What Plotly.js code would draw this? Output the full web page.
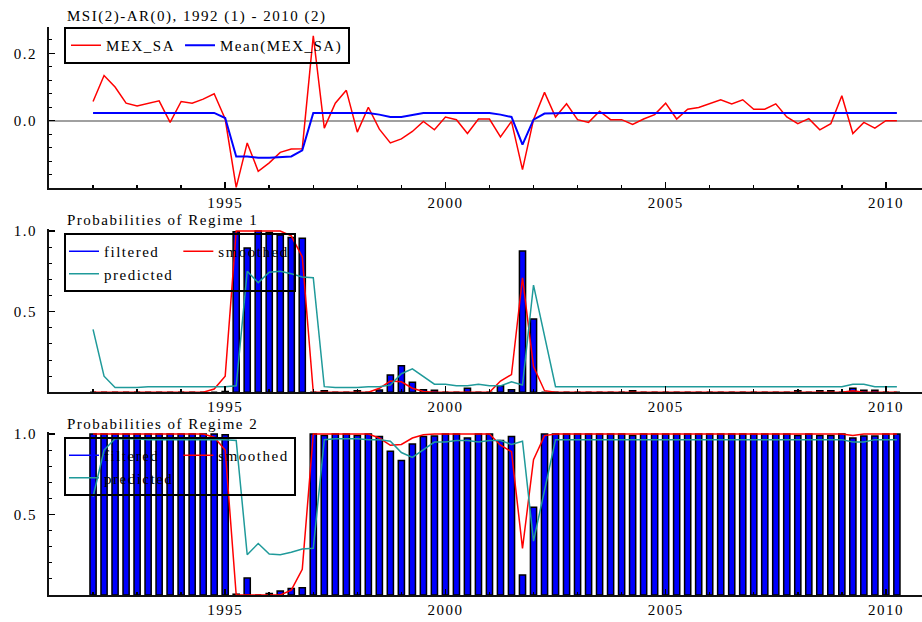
<!DOCTYPE html>
<html>
<head>
<meta charset="utf-8">
<script src="https://cdn.plot.ly/plotly-3.0.1.min.js"></script>
<style>
  html, body { margin: 0; padding: 0; background: #fff; }
  #chart { width: 922px; height: 622px; }
  svg text { letter-spacing: 1.5px; }
</style>
</head>
<body>
<div id="chart"></div>
<script>
// ---- Data (quarterly, 1992(1) - 2010(2)) ----
const startYear = 1992, startQuarter = 1, endYear = 2010, endQuarter = 2;

const mexSA = [
  0.057, 0.134, 0.100, 0.052, 0.044, 0.052, 0.059, -0.005, 0.057, 0.052, 0.064, 0.080,
  0.005, -0.198, -0.066, -0.150, -0.125, -0.094, -0.084, -0.083, 0.252, -0.022, 0.052, 0.090,
  -0.034, 0.040, -0.025, -0.066, -0.054, -0.032, -0.002, -0.027, 0.011, 0.003, -0.038, 0.005,
  0.005, -0.048, -0.002, -0.145, 0.003, 0.084, 0.011, 0.050, 0.003, -0.005, 0.028, 0.003,
  0.003, -0.011, 0.005, 0.018, 0.052, 0.005, 0.034, 0.039, 0.050, 0.062, 0.050, 0.062,
  0.034, 0.034, 0.050, 0.011, -0.009, 0.006, -0.027, -0.009, 0.074, -0.038, -0.005, -0.022,
  0.000, 0.000
];

const meanMexSA = [
  0.023, 0.023, 0.023, 0.023, 0.023, 0.023, 0.023, 0.023, 0.023, 0.023, 0.023, 0.023,
  0.008, -0.106, -0.106, -0.110, -0.110, -0.109, -0.106, -0.088, 0.023, 0.023, 0.023, 0.023,
  0.023, 0.023, 0.018, 0.011, 0.011, 0.018, 0.023, 0.023, 0.023, 0.023, 0.023, 0.023,
  0.023, 0.018, 0.011, -0.071, 0.003, 0.021, 0.023, 0.023, 0.023, 0.023, 0.023, 0.023,
  0.023, 0.023, 0.023, 0.023, 0.023, 0.023, 0.023, 0.023, 0.023, 0.023, 0.023, 0.023,
  0.023, 0.023, 0.023, 0.023, 0.023, 0.023, 0.023, 0.023, 0.023, 0.023, 0.023, 0.023,
  0.023, 0.023
];

const filtered1 = [
  0, 0, 0, 0, 0, 0, 0, 0, 0, 0, 0, 0,
  0.005, 0.995, 0.895, 1.0, 0.99, 0.975, 0.96, 0.955, 0, 0.01, 0, 0,
  0.01, 0, 0.015, 0.107, 0.165, 0.062, 0.016, 0.012, 0, 0, 0.025, 0,
  0, 0.04, 0.016, 0.876, 0.455, 0, 0, 0, 0, 0, 0, 0,
  0, 0.01, 0, 0, 0, 0, 0, 0, 0, 0, 0, 0,
  0, 0, 0, 0, 0.01, 0, 0.01, 0.01, 0, 0.025, 0.012, 0.012,
  0, 0
];

const smoothed1 = [
  0, 0, 0, 0, 0, 0, 0, 0, 0, 0, 0, 0.02,
  0.10, 1.0, 1.0, 1.0, 1.0, 1.0, 0.97, 0.84, 0, 0, 0, 0,
  0, 0, 0.025, 0.07, 0.065, 0.025, 0.005, 0, 0, 0, 0, 0,
  0, 0.07, 0.11, 0.71, 0.16, 0.01, 0, 0, 0, 0, 0, 0,
  0, 0, 0, 0, 0, 0, 0, 0, 0, 0, 0, 0,
  0, 0, 0, 0, 0, 0, 0, 0, 0, 0.01, 0, 0,
  0, 0
];

const predicted1 = [
  0.39, 0.10, 0.03, 0.03, 0.03, 0.035, 0.035, 0.035, 0.035, 0.035, 0.035, 0.035,
  0.035, 0.04, 0.75, 0.68, 0.745, 0.75, 0.735, 0.715, 0.71, 0.035, 0.03, 0.03,
  0.03, 0.035, 0.035, 0.045, 0.115, 0.145, 0.095, 0.05, 0.05, 0.04, 0.04, 0.05,
  0.04, 0.04, 0.065, 0.045, 0.665, 0.36, 0.035, 0.035, 0.035, 0.035, 0.035, 0.035,
  0.035, 0.035, 0.035, 0.035, 0.035, 0.035, 0.035, 0.035, 0.035, 0.035, 0.035, 0.035,
  0.035, 0.035, 0.035, 0.035, 0.035, 0.035, 0.035, 0.035, 0.035, 0.05, 0.05, 0.035,
  0.035, 0.035
];

const filtered2 = [
  1.0, 1.0, 1.0, 1.0, 1.0, 1.0, 1.0, 1.0, 1.0, 1.0, 1.0, 1.0,
  0.995, 0.005, 0.105, 0.0, 0.01, 0.025, 0.04, 0.045, 1.0, 0.99, 1.0, 1.0,
  0.99, 1.0, 0.985, 0.893, 0.835, 0.938, 0.984, 0.988, 1.0, 1.0, 0.975, 1.0,
  1.0, 0.96, 0.984, 0.124, 0.545, 1.0, 1.0, 1.0, 1.0, 1.0, 1.0, 1.0,
  1.0, 0.99, 1.0, 1.0, 1.0, 1.0, 1.0, 1.0, 1.0, 1.0, 1.0, 1.0,
  1.0, 1.0, 1.0, 1.0, 0.99, 1.0, 0.99, 0.99, 1.0, 0.975, 0.988, 0.988,
  1.0, 1.0
];

const smoothed2 = [
  1.0, 1.0, 1.0, 1.0, 1.0, 1.0, 1.0, 1.0, 1.0, 1.0, 1.0, 0.98,
  0.90, 0.0, 0.0, 0.0, 0.0, 0.0, 0.03, 0.16, 1.0, 1.0, 1.0, 1.0,
  1.0, 1.0, 0.975, 0.93, 0.935, 0.975, 0.995, 1.0, 1.0, 1.0, 1.0, 1.0,
  1.0, 0.93, 0.89, 0.29, 0.84, 0.99, 1.0, 1.0, 1.0, 1.0, 1.0, 1.0,
  1.0, 1.0, 1.0, 1.0, 1.0, 1.0, 1.0, 1.0, 1.0, 1.0, 1.0, 1.0,
  1.0, 1.0, 1.0, 1.0, 1.0, 1.0, 1.0, 1.0, 1.0, 0.99, 1.0, 1.0,
  1.0, 1.0
];

const predicted2 = [
  0.61, 0.90, 0.97, 0.97, 0.97, 0.965, 0.965, 0.965, 0.965, 0.965, 0.965, 0.965,
  0.965, 0.96, 0.25, 0.32, 0.255, 0.25, 0.265, 0.285, 0.29, 0.965, 0.97, 0.97,
  0.97, 0.965, 0.965, 0.955, 0.885, 0.855, 0.905, 0.95, 0.95, 0.96, 0.96, 0.95,
  0.96, 0.96, 0.935, 0.955, 0.335, 0.64, 0.965, 0.965, 0.965, 0.965, 0.965, 0.965,
  0.965, 0.965, 0.965, 0.965, 0.965, 0.965, 0.965, 0.965, 0.965, 0.965, 0.965, 0.965,
  0.965, 0.965, 0.965, 0.965, 0.965, 0.965, 0.965, 0.965, 0.965, 0.95, 0.95, 0.965,
  0.965, 0.965
];

const topTickVals = [0, 0.2], topTickText = ['0.0', '0.2'];
const probTickVals = [0.5, 1.0], probTickText = ['0.5', '1.0'];
const titleTop = 'MSI(2)-AR(0), 1992 (1) - 2010 (2)';
const titleR1 = 'Probabilities of Regime 1';
const titleR2 = 'Probabilities of Regime 2';

// quarter positions in decimal years
const xq = [];
for (let y = startYear, q = startQuarter; y < endYear || (y === endYear && q <= endQuarter); ) {
  xq.push(y + (q - 1) / 4);
  q++; if (q > 4) { q = 1; y++; }
}

const RED = '#ff0000', BLUE = '#0000ff', TEAL = '#1f9a9a';
const FONT = {family: 'Liberation Serif, Times New Roman, serif', size: 15, color: '#000'};

// legend-only proxy for the bar series (the reference shows a line sample)
function legendProxy(xa, ya, leg) {
  return {x: [xq[0]], y: [null], type: 'scatter', mode: 'lines', name: 'filtered', legendgroup: 'a',
          line: {color: BLUE, width: 1.5}, xaxis: xa, yaxis: ya, legend: leg, hoverinfo: 'skip'};
}

const traces = [
  {x: xq, y: mexSA, type: 'scatter', mode: 'lines', name: 'MEX_SA',
   line: {color: RED, width: 1.5}, xaxis: 'x', yaxis: 'y', legend: 'legend'},
  {x: xq, y: meanMexSA, type: 'scatter', mode: 'lines', name: 'Mean(MEX_SA)',
   line: {color: BLUE, width: 2}, xaxis: 'x', yaxis: 'y', legend: 'legend'},

  legendProxy('x2', 'y2', 'legend2'),
  {x: xq, y: filtered1, type: 'bar', name: 'filtered', showlegend: false, width: 0.14,
   marker: {color: BLUE, line: {color: '#000', width: 1.5}}, xaxis: 'x2', yaxis: 'y2'},
  {x: xq, y: smoothed1, type: 'scatter', mode: 'lines', name: 'smoothed', legendgroup: 'b',
   line: {color: RED, width: 1.5}, xaxis: 'x2', yaxis: 'y2', legend: 'legend2'},
  {x: xq, y: predicted1, type: 'scatter', mode: 'lines', name: 'predicted', legendgroup: 'a',
   line: {color: TEAL, width: 1.5}, xaxis: 'x2', yaxis: 'y2', legend: 'legend2'},

  legendProxy('x3', 'y3', 'legend3'),
  {x: xq, y: filtered2, type: 'bar', name: 'filtered', showlegend: false, width: 0.14,
   marker: {color: BLUE, line: {color: '#000', width: 1.5}}, xaxis: 'x3', yaxis: 'y3'},
  {x: xq, y: smoothed2, type: 'scatter', mode: 'lines', name: 'smoothed', legendgroup: 'b',
   line: {color: RED, width: 1.5}, xaxis: 'x3', yaxis: 'y3', legend: 'legend3'},
  {x: xq, y: predicted2, type: 'scatter', mode: 'lines', name: 'predicted', legendgroup: 'a',
   line: {color: TEAL, width: 1.5}, xaxis: 'x3', yaxis: 'y3', legend: 'legend3'}
];

function xAxis(anchor) {
  return {
    anchor: anchor, domain: [0, 1], range: [1991.0, 2010.82],
    tickmode: 'linear', tick0: 1995, dtick: 5, tickformat: 'd',
    ticks: 'inside', ticklen: 6, tickwidth: 1.5, tickcolor: '#000',
    minor: {tickmode: 'linear', tick0: 1995, dtick: 1, ticks: 'inside', ticklen: 3, tickwidth: 1.5, tickcolor: '#000'},
    showline: true, linecolor: '#111', linewidth: 2, showgrid: false, zeroline: false,
    tickfont: FONT, ticklabelstandoff: 0
  };
}
function yAxis(anchor, domain, range, vals, text, minorDtick, zl) {
  return {
    anchor: anchor, domain: domain, range: range,
    tickmode: 'array', tickvals: vals, ticktext: text,
    ticks: 'inside', ticklen: 6, tickwidth: 1.5, tickcolor: '#000',
    minor: {tickmode: 'linear', tick0: 0, dtick: minorDtick, ticks: 'inside', ticklen: 3, tickwidth: 1, tickcolor: '#000'},
    showline: true, linecolor: '#111', linewidth: 2, showgrid: false,
    zeroline: zl, zerolinecolor: '#a0a0a0', zerolinewidth: 2,
    tickfont: FONT, ticklabelstandoff: 7
  };
}
function legendAt(y, grouped) {
  const l = {
    x: 0.0172, y: y, xanchor: 'left', yanchor: 'top', orientation: 'h',
    bgcolor: 'rgba(255,255,255,0)', bordercolor: '#000', borderwidth: 2,
    font: FONT, itemwidth: 30, tracegroupgap: 0
  };
  if (grouped) l.traceorder = 'grouped';
  return l;
}

const layout = {
  width: 922, height: 622,
  margin: {l: 49, r: 0, t: 0, b: 0},
  paper_bgcolor: '#fff', plot_bgcolor: '#fff',
  font: FONT,
  bargap: 0,
  showlegend: true,
  xaxis: xAxis('y'),
  xaxis2: xAxis('y2'),
  xaxis3: xAxis('y3'),
  yaxis: yAxis('x', [0.69727, 0.95707], [-0.2006, 0.2789], topTickVals, topTickText, 0.04, true),
  yaxis2: yAxis('x2', [0.36929, 0.63183], [0, 1.0124], probTickVals, probTickText, 0.1, false),
  yaxis3: yAxis('x3', [0.04341, 0.30547], [0, 1.0124], probTickVals, probTickText, 0.1, false),
  legend: legendAt(0.9566, false),
  legend2: legendAt(0.6254, true),
  legend3: legendAt(0.2974, true),
  annotations: [
    {text: titleTop, xref: 'paper', yref: 'paper', x: 0.018, y: 0.9735, xanchor: 'left', yanchor: 'middle', showarrow: false, font: FONT},
    {text: titleR1, xref: 'paper', yref: 'paper', x: 0.018, y: 0.6463, xanchor: 'left', yanchor: 'middle', showarrow: false, font: FONT},
    {text: titleR2, xref: 'paper', yref: 'paper', x: 0.018, y: 0.3183, xanchor: 'left', yanchor: 'middle', showarrow: false, font: FONT}
  ]
};

Plotly.newPlot('chart', traces, layout, {displayModeBar: false, staticPlot: true});
</script>
</body>
</html>
